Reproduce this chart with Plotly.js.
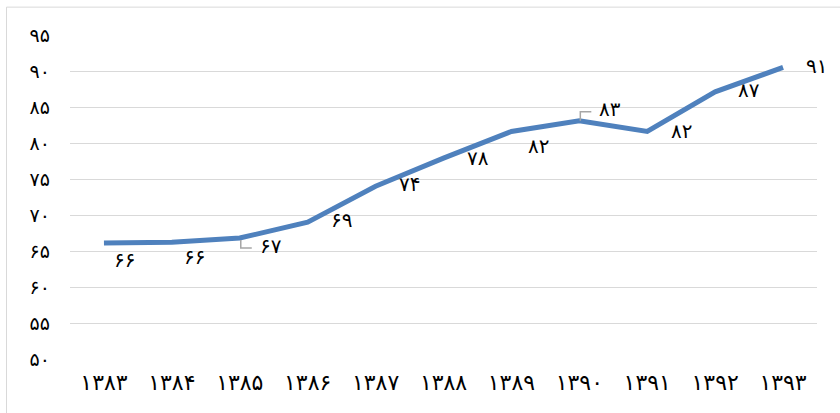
<!DOCTYPE html>
<html>
<head>
<meta charset="utf-8">
<script src="https://cdn.plot.ly/plotly-3.0.1.min.js"></script>
<style>html,body{margin:0;padding:0;background:#fff;}#chart{width:840px;height:413px;}</style>
</head>
<body>
<div id="chart"></div>
<script>
// Data
var years = ['۱۳۸۳','۱۳۸۴','۱۳۸۵','۱۳۸۶','۱۳۸۷','۱۳۸۸','۱۳۸۹','۱۳۹۰','۱۳۹۱','۱۳۹۲','۱۳۹۳'];
var values = [66.1, 66.2, 66.8, 69.0, 74.0, 77.9, 81.6, 83.1, 81.6, 87.1, 90.5];
var labels = ['۶۶','۶۶','۶۷','۶۹','۷۴','۷۸','۸۲','۸۳','۸۲','۸۷','۹۱'];
var yTickVals = [50, 55, 60, 65, 70, 75, 80, 85, 90, 95];
var yTickText = ['۵۰','۵۵','۶۰','۶۵','۷۰','۷۵','۸۰','۸۵','۹۰','۹۵'];

// label offsets (pixels) - presentation only
var labelShiftX = [21, 23, 31, 34, 34, 34, 27, 31, 34, 34, 33];
var labelShiftY = [-17, -15, -8, 2, 2, 0, -15, 12, 0, 2, 1];

var FONT = 'DejaVu Sans, sans-serif';

var annotations = years.map(function(c, i){
  return {x: c, y: values[i], xref: 'x', yref: 'y', text: labels[i], showarrow: false,
    xshift: labelShiftX[i], yshift: labelShiftY[i],
    font: {family: FONT, size: 20, color: '#000'}};
});

var shapes = [
  {type: 'line', xref: 'paper', yref: 'paper', x0: -0.085, x1: -0.085, y0: 1.086, y1: -0.2,
    line: {color: '#d9d9d9', width: 1}},
  {type: 'line', xref: 'paper', yref: 'paper', x0: -0.085, x1: 1.1, y0: 1.086, y1: 1.086,
    line: {color: '#d9d9d9', width: 1}},
  // leader lines
  {type: 'path', xref: 'x', yref: 'y', xsizemode: 'pixel', ysizemode: 'pixel',
    xanchor: years[2], yanchor: values[2], path: 'M 1,-2 L 1,-10 L 12,-10',
    line: {color: '#a6a6a6', width: 1.5}},
  {type: 'path', xref: 'x', yref: 'y', xsizemode: 'pixel', ysizemode: 'pixel',
    xanchor: years[7], yanchor: values[7], path: 'M 1,0 L 1,9 L 12,9',
    line: {color: '#a6a6a6', width: 1.5}}
];

var trace = {
  x: years, y: values, type: 'scatter', mode: 'lines',
  line: {color: '#4f81bd', width: 5, shape: 'linear'},
  hoverinfo: 'none', cliponaxis: false
};

var layout = {
  width: 840, height: 413,
  margin: {l: 70, r: 23, t: 35, b: 54},
  paper_bgcolor: '#fff', plot_bgcolor: '#fff',
  showlegend: false,
  xaxis: {type: 'category', showgrid: false, zeroline: false, showline: false,
    ticks: '', tickfont: {family: FONT, size: 22, color: '#000'}, ticklabelstandoff: 8,
    range: [-0.5, 10.5]},
  yaxis: {range: [50, 95], tickvals: yTickVals, ticktext: yTickText, showgrid: true,
    gridcolor: '#d9d9d9', gridwidth: 1, zeroline: false, showline: false, ticks: '',
    tickfont: {family: FONT, size: 19, color: '#000'}, ticklabelstandoff: 19},
  shapes: shapes,
  annotations: annotations
};

Plotly.newPlot('chart', [trace], layout, {staticPlot: true, displayModeBar: false});
</script>
</body>
</html>
